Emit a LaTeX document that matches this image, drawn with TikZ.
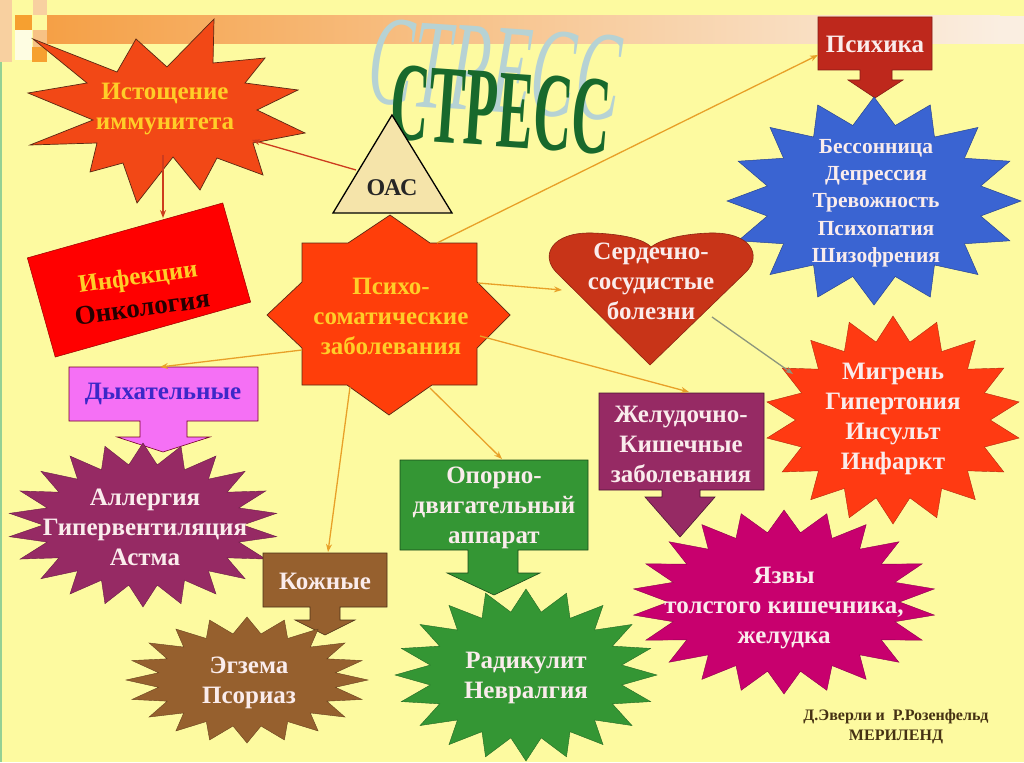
\documentclass[tikz,border=0pt]{standalone}
\usepackage{fontspec}
\setmainfont{Liberation Serif}
\usetikzlibrary{arrows.meta}
\definecolor{bg}{RGB}{253,250,160}
\definecolor{bandA}{RGB}{245,160,70}
\definecolor{bandB}{RGB}{250,238,225}
\definecolor{sqor}{RGB}{246,160,48}
\definecolor{sqpe}{RGB}{248,208,160}
\definecolor{istred}{RGB}{242,72,22}
\definecolor{psyred}{RGB}{255,62,10}
\definecolor{infred}{RGB}{255,0,0}
\definecolor{heart}{RGB}{200,52,24}
\definecolor{blueb}{RGB}{58,100,210}
\definecolor{migred}{RGB}{255,58,18}
\definecolor{purp}{RGB}{150,42,100}
\definecolor{pinkbox}{RGB}{245,112,245}
\definecolor{brownb}{RGB}{150,96,46}
\definecolor{greenb}{RGB}{52,150,52}
\definecolor{magb}{RGB}{200,0,110}
\definecolor{psybox}{RGB}{190,40,28}
\definecolor{gold}{RGB}{255,206,40}
\definecolor{lighttx}{RGB}{250,236,236}
\definecolor{conor}{RGB}{232,160,40}
\definecolor{conred}{RGB}{205,60,30}
\definecolor{congray}{RGB}{140,150,125}
\definecolor{stressg}{RGB}{24,105,44}
\definecolor{stressb}{RGB}{182,210,212}
\definecolor{oasfill}{RGB}{245,228,170}
\definecolor{dyhtx}{RGB}{60,40,200}
\definecolor{credit}{RGB}{70,50,20}
\definecolor{outl}{RGB}{90,40,20}

% starburst: cx cy rx ry npoints innerratio startangle style
\newcommand{\burst}[8]{%
  \pgfmathtruncatemacro{\bn}{2*#5-1}%
  \path[#8] ({#1+#3*cos(#7)},{#2+#4*sin(#7)})
    \foreach \k in {1,...,\bn} { -- ({#1+#3*(1-(1-#6)*mod(\k,2))*cos(#7+\k*180/#5)},{#2+#4*(1-(1-#6)*mod(\k,2))*sin(#7+\k*180/#5)}) } -- cycle;}

\tikzset{
  txt/.style={font=\bfseries\fontsize{25}{30}\selectfont, align=center, inner sep=0pt},
  con/.style={line width=1.3pt, -{Stealth[length=8pt,width=6pt]}},
  shp/.style={draw=outl, line width=0.7pt},
}

\begin{document}
\begin{tikzpicture}[x=1pt,y=-1pt]
\useasboundingbox (0,0) rectangle (1024,762);
\fill[bg] (0,0) rectangle (1024,762);
\draw[green!40!gray!60, line width=1.5pt] (1,0) -- (1,762);

% top decoration
\shade[left color=bandA, right color=bandB] (47,16) rectangle (1000,44);
\fill[bandB] (1000,16) rectangle (1024,44);
\fill[sqpe] (0,0) rectangle (12,62);
\fill[white!70!bg] (15,30) rectangle (32,60);
\fill[sqor] (15,15) rectangle (32,30);
\fill[sqpe] (33,0) rectangle (47,15);
\fill[sqpe!70!bandA] (33,30) rectangle (47,47);
\fill[sqor] (32,47) rectangle (47,62);

% STRESS title
\node[font=\itshape, text=stressb, rotate=-4, inner sep=0pt] (stressshadow) at (495,70)
  {\scalebox{0.52}[1]{\fontsize{128}{128}\selectfont СТРЕСС}};
\node[font=\bfseries, text=stressg, rotate=-4, inner sep=0pt] (stress) at (501,110)
  {\scalebox{0.48}[1]{\fontsize{112}{112}\selectfont СТРЕСС}};

% Istoshchenie explosion
\path[fill=istred, shp] (33,39) -- (117,72) -- (136,39) -- (167,67) -- (214,19) -- (213,63)
  -- (265,58) -- (245,83) -- (298,90) -- (257,110) -- (305,133) -- (253,143) -- (263,175)
  -- (217,158) -- (200,190) -- (173,157) -- (137,203) -- (123,163) -- (90,172) -- (97,143)
  -- (30,145) -- (93,120) -- (28,93) -- (87,83) -- cycle;
\node[txt, text=gold] (ist) at (165,109) {Истощение\\иммунитета};

% Infection rectangle
\node[fill=infred, draw=red!60!black, line width=0.5pt, rotate=15.7, minimum width=203pt,
  minimum height=103pt, inner sep=0pt] (inf) at (139,280) {};
\node[txt, rotate=8] (inftxt) at (140,292) {\textcolor{gold}{Инфекции}\\[2pt]{\fontsize{27}{30}\selectfont\textcolor{black!85!red}{Онкология}}};

% OAS triangle
\path[fill=oasfill, draw=black, line width=1.3pt] (392,115) -- (452,213) -- (333,213) -- cycle;
\node[font=\bfseries\fontsize{24}{24}\selectfont, text=black!85, inner sep=0pt] (oas) at (392,188) {ОАС};

% Psycho-somatic 8-point star
\path[fill=psyred, shp] (390,215) -- (430,243) -- (477,243) -- (477,282) -- (510,315)
  -- (477,348) -- (477,385) -- (432,385) -- (389,415) -- (347,385) -- (302,385)
  -- (302,348) -- (267,315) -- (302,282) -- (302,243) -- (348,243) -- cycle;
\node[txt, text=gold] (psy) at (391,316) {Психо-\\соматические\\заболевания};

% Psikhika callout
\path[fill=psybox, draw=psybox!70!black, line width=0.6pt] (818,17) -- (932,17) -- (932,70) -- (892,70) -- (892,80)
  -- (903,80) -- (875,98) -- (848,80) -- (860,80) -- (860,70) -- (818,70) -- cycle;
\node[txt, text=lighttx] (psikh) at (875,44) {Психика};

% blue burst
\burst{874}{201}{147}{104}{16}{0.74}{-90}{fill=blueb, draw=blueb!70!black, line width=0.5pt}
\node[font=\bfseries\fontsize{21.5}{27.3}\selectfont, align=center, inner sep=0pt, text=lighttx] (blue)
  at (876,203) {Бессонница\\Депрессия\\Тревожность\\Психопатия\\Шизофрения};

% heart
\path[fill=heart, draw=heart!70!black, line width=0.6pt] (650,365) -- (556,272)
  .. controls (540,255) and (552,232) .. (592,233)
  .. controls (625,234) and (645,240) .. (651,247)
  .. controls (660,240) and (680,234) .. (710,233)
  .. controls (752,232) and (762,256) .. (746,272) -- cycle;
\node[txt, text=lighttx] (card) at (651,281) {Сердечно-\\сосудистые\\болезни};

% migraine burst
\burst{893}{420}{128}{104}{18}{0.76}{-90}{fill=migred, draw=migred!70!black, line width=0.4pt}
\node[txt, text=lighttx] (mig) at (893,419) {Мигрень\\Гипертония\\Инсульт\\Инфаркт};

% Dykhatelnye callout
\path[fill=pinkbox, draw=purple!60!black, line width=0.6pt] (69,367) -- (258,367) -- (258,421) -- (187,421)
  -- (187,437) -- (210,437) -- (163,452) -- (117,437) -- (140,437) -- (140,421) -- (69,421) -- cycle;
\node[txt, text=dyhtx] (dyh) at (163,394) {Дыхательные};

% allergy burst
\burst{143}{525}{135}{82}{22}{0.74}{-90}{fill=purp, draw=purp!70!black, line width=0.4pt}
\node[txt, text=lighttx] (alle) at (145,527) {Аллергия\\Гипервентиляция\\Астма};

% Kozhnye callout
\path[fill=brownb, draw=brownb!50!black, line width=0.6pt] (263,553) -- (387,553) -- (387,607) -- (340,607)
  -- (340,620) -- (355,620) -- (325,635) -- (295,620) -- (310,620) -- (310,607) -- (263,607) -- cycle;
\node[txt, text=lighttx] (kozh) at (325,581) {Кожные};

% eczema burst
\burst{247}{680}{121}{63}{20}{0.74}{-90}{fill=brownb, draw=brownb!70!black, line width=0.4pt}
\node[txt, text=lighttx] (ecz) at (249,683) {Эгзема\\Псориаз};

% Oporno callout
\path[fill=greenb, draw=greenb!50!black, line width=0.6pt] (400,460) -- (588,460) -- (588,550) -- (518,550)
  -- (518,573) -- (540,573) -- (494,595) -- (447,573) -- (468,573) -- (468,550) -- (400,550) -- cycle;
\node[txt, text=lighttx] (opor) at (494,508) {Опорно-\\двигательный\\аппарат};

% radiculitis burst
\burst{526}{675}{131}{86}{20}{0.74}{-90}{fill=greenb, draw=greenb!70!black, line width=0.4pt}
\node[txt, text=lighttx] (rad) at (526,678) {Радикулит\\Невралгия};

% ulcer burst
\burst{784}{602}{152}{92}{22}{0.76}{-90}{fill=magb, draw=magb!70!black, line width=0.4pt}
\node[txt, text=lighttx] (ulc) at (784,608) {Язвы\\толстого кишечника,\\желудка};

% Zheludochno callout
\path[fill=purp, draw=purp!50!black, line width=0.6pt] (599,393) -- (764,393) -- (764,490) -- (700,490)
  -- (700,497) -- (715,497) -- (680,537) -- (645,497) -- (662,497) -- (662,490) -- (599,490) -- cycle;
\node[txt, text=lighttx] (zhel) at (681,444) {Желудочно-\\Кишечные\\заболевания};

% connector end points
\coordinate (oasL) at (356,170);
\coordinate (istR) at (252,140);
\coordinate (istB) at (163,155);
\coordinate (infT) at (163,218);
\coordinate (psyNE) at (437,243);
\coordinate (psikhL) at (818,55);
\coordinate (psyE1) at (478,283);
\coordinate (cardL) at (562,290);
\coordinate (psyE2) at (480,336);
\coordinate (zhelT) at (689,392);
\coordinate (psyW) at (302,350);
\coordinate (dyhT) at (160,367);
\coordinate (psyS1) at (350,387);
\coordinate (kozhT) at (328,552);
\coordinate (psyS2) at (430,388);
\coordinate (oporT) at (502,459);
\coordinate (cardR) at (712,317);
\coordinate (migL) at (793,374);

\draw[con, draw=conred] (oasL) -- (istR);
\draw[con, draw=conred] (istB) -- (infT);
\draw[con, draw=conor] (psyNE) -- (psikhL);
\draw[con, draw=conor] (psyE1) -- (cardL);
\draw[con, draw=conor] (psyE2) -- (zhelT);
\draw[con, draw=conor] (psyW) -- (dyhT);
\draw[con, draw=conor] (psyS1) -- (kozhT);
\draw[con, draw=conor] (psyS2) -- (oporT);
\draw[con, draw=congray] (cardR) -- (migL);

% credits
\node[font=\bfseries\fontsize{16}{20}\selectfont, text=credit, align=center, inner sep=0pt] (cred) at (896,727)
  {Д.Эверли и\ \ Р.Розенфельд\\МЕРИЛЕНД};
\end{tikzpicture}
\end{document}
